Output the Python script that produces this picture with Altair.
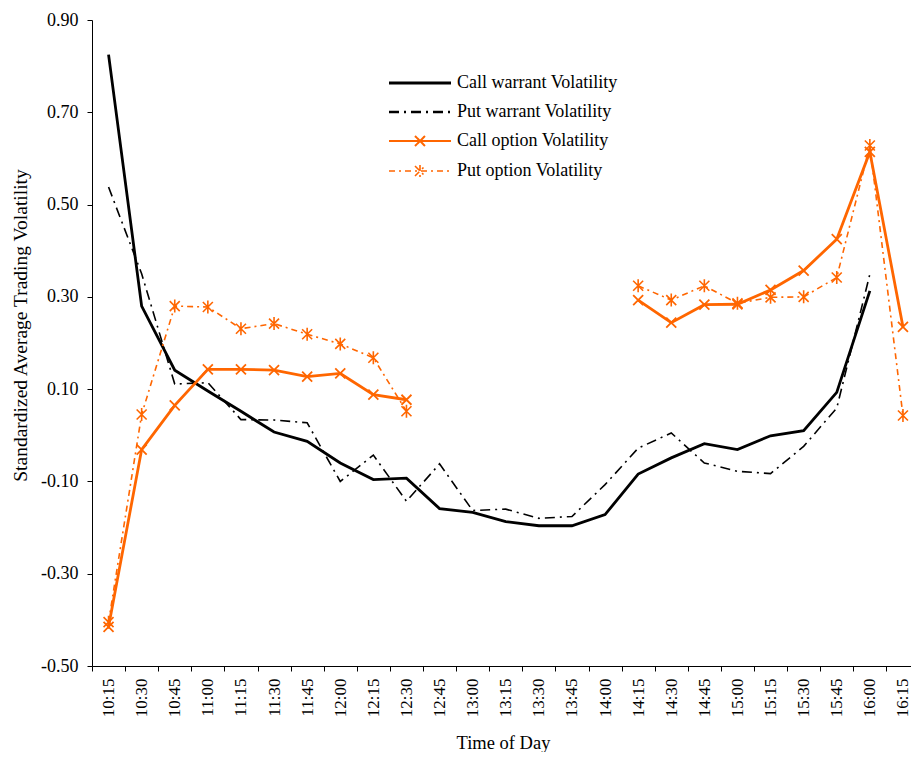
import altair as alt
import pandas as pd

# ---------------- data ----------------
times = ["10:15", "10:30", "10:45", "11:00", "11:15", "11:30", "11:45", "12:00",
         "12:15", "12:30", "12:45", "13:00", "13:15", "13:30", "13:45", "14:00",
         "14:15", "14:30", "14:45", "15:00", "15:15", "15:30", "15:45", "16:00", "16:15"]

series_names = ["Call warrant Volatility", "Put warrant Volatility",
                "Call option Volatility", "Put option Volatility"]

call_warrant = [0.825, 0.28, 0.141, 0.096, 0.052, 0.007, -0.013, -0.060, -0.096, -0.093,
                -0.159, -0.167, -0.187, -0.196, -0.196, -0.172, -0.084, -0.049, -0.018,
                -0.031, -0.001, 0.010, 0.093, 0.313, None]
put_warrant = [0.538, 0.35, 0.111, 0.114, 0.034, 0.033, 0.027, -0.100, -0.043, -0.143,
               -0.062, -0.163, -0.160, -0.180, -0.176, -0.107, -0.028, 0.005, -0.060,
               -0.078, -0.083, -0.024, 0.059, 0.349, None]
call_option = [-0.415, -0.031, 0.065, 0.143, 0.143, 0.141, 0.127, 0.134, 0.088, 0.077,
               None, None, None, None, None, None,
               0.293, 0.244, 0.283, 0.284, 0.315, 0.357, 0.425, 0.614, 0.235]
put_option = [-0.405, 0.045, 0.280, 0.278, 0.231, 0.242, 0.219, 0.198, 0.168, 0.052,
              None, None, None, None, None, None,
              0.324, 0.293, 0.324, 0.286, 0.299, 0.300, 0.342, 0.628, 0.043]

y_ticks = [-0.5, -0.3, -0.1, 0.1, 0.3, 0.5, 0.7, 0.9]

# ---------------- styles ----------------
FONT = "Liberation Serif"
ORANGE = "#FF6600"
colors = ["#000000", "#000000", ORANGE, ORANGE]
dashes = [[1, 0], [10, 5, 2, 5], [1, 0], [6, 4, 2, 4]]
widths = [2.8, 1.6, 2.8, 1.6]
XPATH = "M-1,-1L1,1M-1,1L1,-1"
ASTER = "M-1,-1L1,1M-1,1L1,-1M0,-1.3L0,1.3"
legend_paths = [
    "M-6.2,0L6.2,0",
    "M-6.2,0L6.2,0",
    "M-6.2,0L6.2,0M-1,-1L1,1M-1,1L1,-1",
    "M-6.2,0L6.2,0M-1,-1L1,1M-1,1L1,-1M0,-1.2L0,1.2",
]

rows = []
for name, vals in zip(series_names, [call_warrant, put_warrant, call_option, put_option]):
    for i, (t, v) in enumerate(zip(times, vals)):
        if v is None:
            continue
        seg = name
        if "option" in name:
            seg = name + ("|am" if i <= 9 else "|pm")
        rows.append({"time": t, "value": v, "series": name, "seg": seg})
df = pd.DataFrame(rows)

x_axis = alt.Axis(title="Time of Day", labelAngle=-90, tickBand="extent", tickSize=5,
                  tickColor="black", domainColor="black", labelPadding=7,
                  labelFont=FONT, labelFontSize=17, labelColor="black", labelOverlap=False,
                  titleFont=FONT, titleFontSize=18.5, titleFontWeight="normal", titleColor="black",
                  titleX=411, titleY=82, titleBaseline="alphabetic", titleAlign="center", grid=False)
y_axis = alt.Axis(title="Standardized Average Trading Volatility", values=y_ticks,
                  labelExpr="replace(format(datum.value, '.2f'), '\u2212', '-')",
                  tickSize=5, tickColor="black", domainColor="black", labelPadding=9,
                  labelFont=FONT, labelFontSize=18, labelColor="black",
                  titleFont=FONT, titleFontSize=19.5, titleFontWeight="normal", titleColor="black",
                  titleX=-72, titleY=305, titleBaseline="middle", titleAlign="center", grid=False)

x_enc = alt.X("time:N", bandPosition=0.5,
              scale=alt.Scale(type="band", domain=times, paddingInner=0, paddingOuter=0,
                              round=False),
              axis=x_axis)
y_enc = alt.Y("value:Q", scale=alt.Scale(domain=[-0.5, 0.9], nice=False, zero=False),
              axis=y_axis)

legend_spec = alt.Legend(title=None, orient="none", legendX=319, legendY=54, padding=0,
                         labelFont=FONT, labelFontSize=18, labelColor="black",
                         labelOffset=28, rowPadding=11, symbolSize=100, symbolOpacity=1,
                         labelLimit=400)

base = alt.Chart(df)

legend_layer = base.mark_point(opacity=0, filled=False).encode(
    x=x_enc, y=y_enc,
    color=alt.Color("series:N", scale=alt.Scale(domain=series_names, range=colors), legend=legend_spec),
    shape=alt.Shape("series:N", scale=alt.Scale(domain=series_names, range=legend_paths), legend=legend_spec),
    strokeDash=alt.StrokeDash("series:N", scale=alt.Scale(domain=series_names, range=dashes), legend=legend_spec),
    strokeWidth=alt.StrokeWidth("series:N", scale=alt.Scale(domain=series_names, range=widths), legend=legend_spec),
)

layers = [legend_layer]
for name, c, d, w in zip(series_names, colors, dashes, widths):
    if d == [1, 0]:
        mk = alt.MarkDef(type="line", color=c, strokeWidth=w)
    else:
        mk = alt.MarkDef(type="line", color=c, strokeWidth=w, strokeDash=d)
    layers.append(alt.Chart(df, mark=mk).transform_filter(alt.datum.series == name).encode(
        x=x_enc, y=y_enc, detail="seg:N"))

layers.append(base.transform_filter(alt.datum.series == series_names[2]).mark_point(
    shape=XPATH, size=100, color=ORANGE, strokeWidth=1.8, filled=False, opacity=1
).encode(x=x_enc, y=y_enc))
layers.append(base.transform_filter(alt.datum.series == series_names[3]).mark_point(
    shape=ASTER, size=100, color=ORANGE, strokeWidth=1.6, filled=False, opacity=1
).encode(x=x_enc, y=y_enc))

chart = alt.layer(*layers).properties(
    width=827.5, height=646,
    autosize=alt.AutoSizeParams(type="none"),
    padding={"left": 84, "top": 12, "right": -8.5, "bottom": 86},
    background="white",
).configure_view(strokeWidth=0)

chart.save("out.html", embed_options={"renderer": "svg", "actions": False})
